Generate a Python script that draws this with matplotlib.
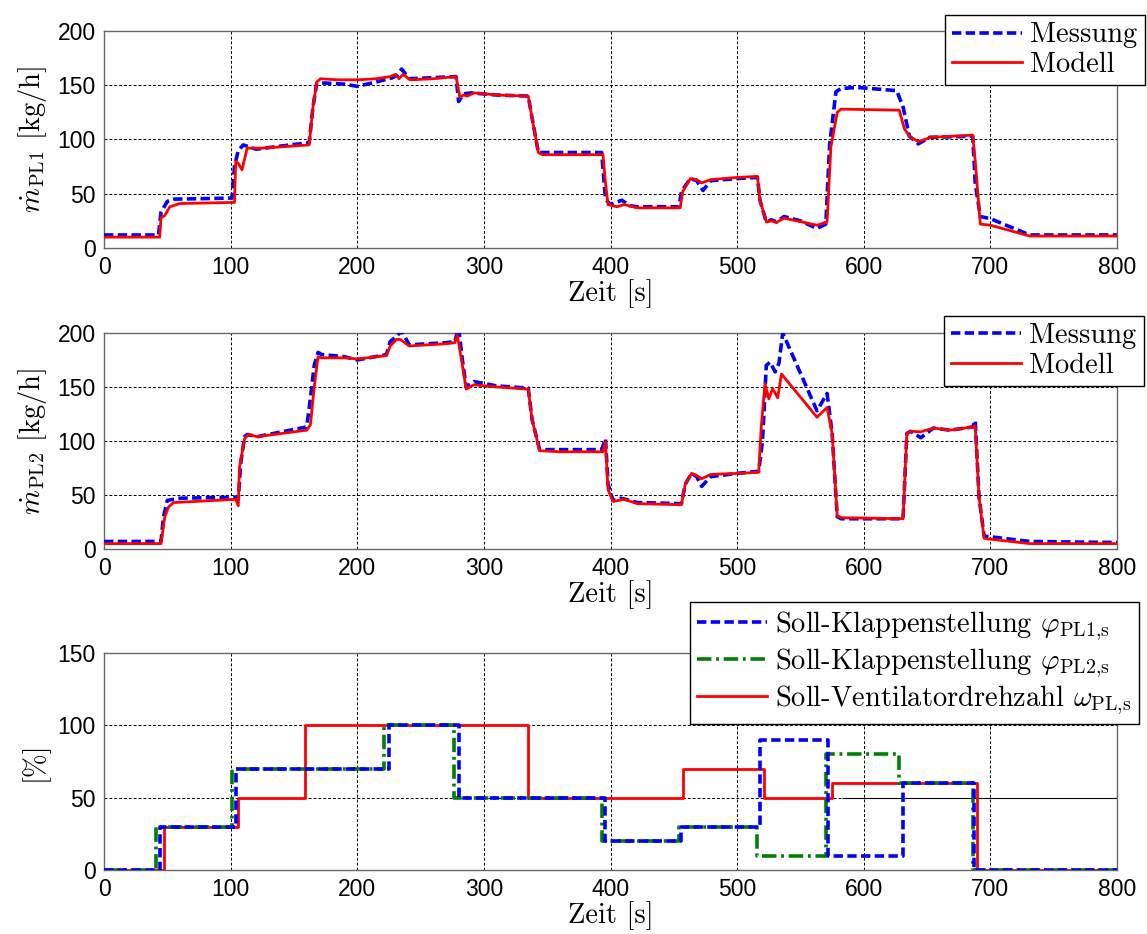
import matplotlib
matplotlib.use("Agg")
import matplotlib.pyplot as plt

plt.rcParams['font.family'] = ['Liberation Sans', 'DejaVu Sans']
plt.rcParams['mathtext.fontset'] = 'cm'

# Massenstrom PL1: Messung und Modell (Zeit [s], Wert [kg/h])
pl1_mess_t = [0, 43, 45, 50, 55, 101, 103, 106, 110, 120, 140, 162, 165, 168, 175, 190, 200, 215, 228, 232, 235,
              241, 260, 278, 280, 284, 290, 310, 335, 338, 343, 393, 396, 400, 404, 409, 415, 421, 454, 456, 463,
              468, 473, 479, 500, 516, 518, 523, 527, 531, 537, 550, 563, 570, 573, 578, 582, 595, 626, 631, 636,
              643, 652, 686, 688, 692, 700, 731, 800]
pl1_mess_v = [12, 12, 33, 43, 45, 46, 75, 90, 95, 91, 94, 97, 130, 152, 152, 151, 149, 153, 157, 160, 165,
              156, 157, 158, 135, 142, 143, 141, 140, 120, 88, 88, 45, 40, 42, 44, 39, 38, 38, 52, 64,
              62, 53, 62, 64, 65, 44, 24, 26, 24, 29, 25, 18, 22, 95, 144, 147, 148, 145, 130, 103,
              96, 102, 103, 60, 29, 27, 12, 12]
pl1_mod_t = [0, 44, 45, 48, 52, 60, 103, 104, 106, 109, 113, 125, 162, 165, 168, 171, 185, 200, 215, 226, 230,
             233, 236, 242, 260, 278, 281, 284, 287, 292, 310, 335, 338, 343, 346, 394, 396, 398, 405, 411, 421,
             455, 457, 463, 468, 472, 479, 500, 516, 518, 523, 527, 531, 537, 563, 571, 574, 579, 582, 628, 632,
             636, 643, 653, 686, 688, 692, 700, 731, 800]
pl1_mod_v = [10, 10, 28, 30, 38, 41, 42, 80, 78, 72, 92, 92, 95, 130, 153, 156, 155, 155, 156, 158, 160,
             156, 160, 155, 156, 158, 139, 141, 140, 143, 141, 140, 120, 88, 86, 86, 60, 40, 38, 40, 37,
             37, 52, 64, 63, 60, 63, 65, 66, 44, 24, 25, 23.5, 27.5, 21, 24, 93, 125, 128, 127, 110,
             103, 98, 102, 104, 80, 22, 21, 11, 11]

# Massenstrom PL2
pl2_mess_t = [0, 45, 47, 50, 60, 104, 106, 108, 111, 113, 121, 160, 162, 166, 169, 172, 190, 200, 223, 226, 231,
              235, 241, 270, 277, 280, 283, 286, 292, 310, 335, 338, 344, 360, 393, 396, 398, 402, 408, 412, 421,
              456, 459, 464, 468, 472, 479, 500, 517, 520, 523, 526, 530, 533, 536, 563, 571, 575, 579, 582, 631,
              634, 637, 645, 655, 668, 686, 688, 691, 695, 731, 800]
pl2_mess_v = [7, 7, 30, 45, 47, 48, 46, 80, 104, 106, 104, 113, 130, 170, 182, 180, 178, 175, 180, 192, 197,
              202, 189, 191, 192, 205, 175, 150, 155, 151, 149, 120, 92, 92, 92, 102, 60, 45, 47, 46, 43,
              42, 60, 70, 67, 58, 67, 70, 72, 100, 170, 173, 164, 172, 200, 128, 144, 107, 30, 28, 28,
              107, 109, 103, 112, 110, 113, 119, 48, 12, 7, 6]
pl2_mod_t = [0, 45, 48, 51, 55, 104, 106, 107, 111, 114, 121, 160, 163, 166, 169, 172, 190, 200, 223, 226, 231,
             234, 241, 270, 277, 279, 283, 286, 292, 310, 335, 338, 344, 360, 394, 396, 398, 402, 411, 421, 456,
             459, 464, 468, 472, 479, 500, 517, 519, 522, 525, 528, 532, 535, 563, 571, 575, 579, 582, 631, 634,
             637, 645, 655, 668, 686, 688, 691, 695, 697, 731, 800]
pl2_mod_v = [5, 5, 30, 39, 43, 46, 40, 76, 102, 106, 104, 110, 115, 150, 178, 177, 177, 176, 179, 188, 194,
             194, 188, 190, 191, 198, 170, 148, 152, 150, 148, 120, 91, 90, 90, 99, 55, 44, 46, 42, 41,
             60, 70, 68, 65, 69, 70, 71, 113, 153, 139, 148.5, 140, 162, 122, 131, 107, 31, 29, 28, 107,
             109, 108.5, 112, 110, 113, 114, 48, 10, 9.5, 5, 5]

# Sollwerte (Schaltzeitpunkte [s], Stellwert [%])
phi1_t = [0, 44, 104, 225, 280, 396, 456, 518, 572, 631, 687, 800]
phi1_v = [0, 30, 70, 100, 50, 20, 30, 90, 10, 60, 0, 0]
phi2_t = [0, 41, 101, 221, 276, 393, 454, 516, 570, 628, 686, 800]
phi2_v = [0, 30, 70, 100, 50, 20, 30, 10, 80, 60, 0, 0]
omega_t = [0, 47, 106, 159, 335, 457, 521, 575, 689, 800]
omega_v = [0, 30, 50, 100, 50, 70, 50, 60, 0, 0]

BLUE, RED, GREEN = '#0000ff', '#ff0000', '#008000'
dash = (0, (2.6, 1.2))
dashdot = (0, (4.0, 1.3, 0.8, 1.3))
txt = {'family': 'cmr10', 'size': 20.5}

fig = plt.figure(figsize=(11.47, 9.34), dpi=100)
ax1 = fig.add_axes([0.0907, 0.7345, 0.8832, 0.2323])
ax2 = fig.add_axes([0.0907, 0.4122, 0.8832, 0.2313])
ax3 = fig.add_axes([0.0907, 0.0685, 0.8832, 0.2324])


def style(ax, ymax, ystep, ylabel):
    ax.set_xlim(0, 800)
    ax.set_ylim(0, ymax)
    ax.set_xticks(range(0, 801, 100))
    ax.set_yticks(range(0, ymax + 1, ystep))
    ax.tick_params(length=0, labelsize=16.5, pad=6)
    ax.grid(True, color='k', linestyle=(0, (3, 2)), linewidth=0.7)
    for s in ax.spines.values():
        s.set_color('#666666')
        s.set_linewidth(1.0)
    ax.set_xlabel('Zeit [s]', fontdict=txt, labelpad=0)
    ax.set_ylabel(ylabel, fontdict=txt, labelpad=6)


ax1.plot(pl1_mess_t, pl1_mess_v, color=BLUE, lw=2.6, ls=dash, label='Messung', zorder=3)
ax1.plot(pl1_mod_t, pl1_mod_v, color=RED, lw=2.0, label='Modell', zorder=4)
style(ax1, 200, 50, r'$\dot{m}_{\mathrm{PL1}}$ [kg/h]')

ax2.plot(pl2_mess_t, pl2_mess_v, color=BLUE, lw=2.6, ls=dash, label='Messung', zorder=3)
ax2.plot(pl2_mod_t, pl2_mod_v, color=RED, lw=2.0, label='Modell', zorder=4)
style(ax2, 200, 50, r'$\dot{m}_{\mathrm{PL2}}$ [kg/h]')

ax3.step(omega_t, omega_v, where='post', color=RED, lw=2.0,
         label=r'Soll-Ventilatordrehzahl $\omega_{\mathrm{PL{,}s}}$', zorder=3)
ax3.step(phi2_t, phi2_v, where='post', color=GREEN, lw=2.6, ls=dashdot,
         label=r'Soll-Klappenstellung $\varphi_{\mathrm{PL2{,}s}}$', zorder=4)
ax3.step(phi1_t, phi1_v, where='post', color=BLUE, lw=2.6, ls=dash,
         label=r'Soll-Klappenstellung $\varphi_{\mathrm{PL1{,}s}}$', zorder=5)
ax3.hlines(50, 583, 800, color='k', lw=0.8, zorder=2)
style(ax3, 150, 50, '[%]')

leg_kw = dict(loc='upper left', bbox_transform=fig.transFigure, prop=txt, fancybox=False,
              framealpha=1, edgecolor='k', handlelength=2.45, handletextpad=0.3,
              borderpad=0.25, labelspacing=0.12, borderaxespad=0)
for ax, anchor in ((ax1, (0.8239, 0.9839)), (ax2, (0.823, 0.6617))):
    lg = ax.legend(bbox_to_anchor=anchor, **leg_kw)
    lg.get_frame().set_linewidth(1.0)

h, l = ax3.get_legend_handles_labels()
lg = ax3.legend(h[::-1], l[::-1], bbox_to_anchor=(0.6016, 0.3555), **leg_kw)
lg.get_frame().set_linewidth(1.0)

fig.savefig('out.png', dpi=100)
